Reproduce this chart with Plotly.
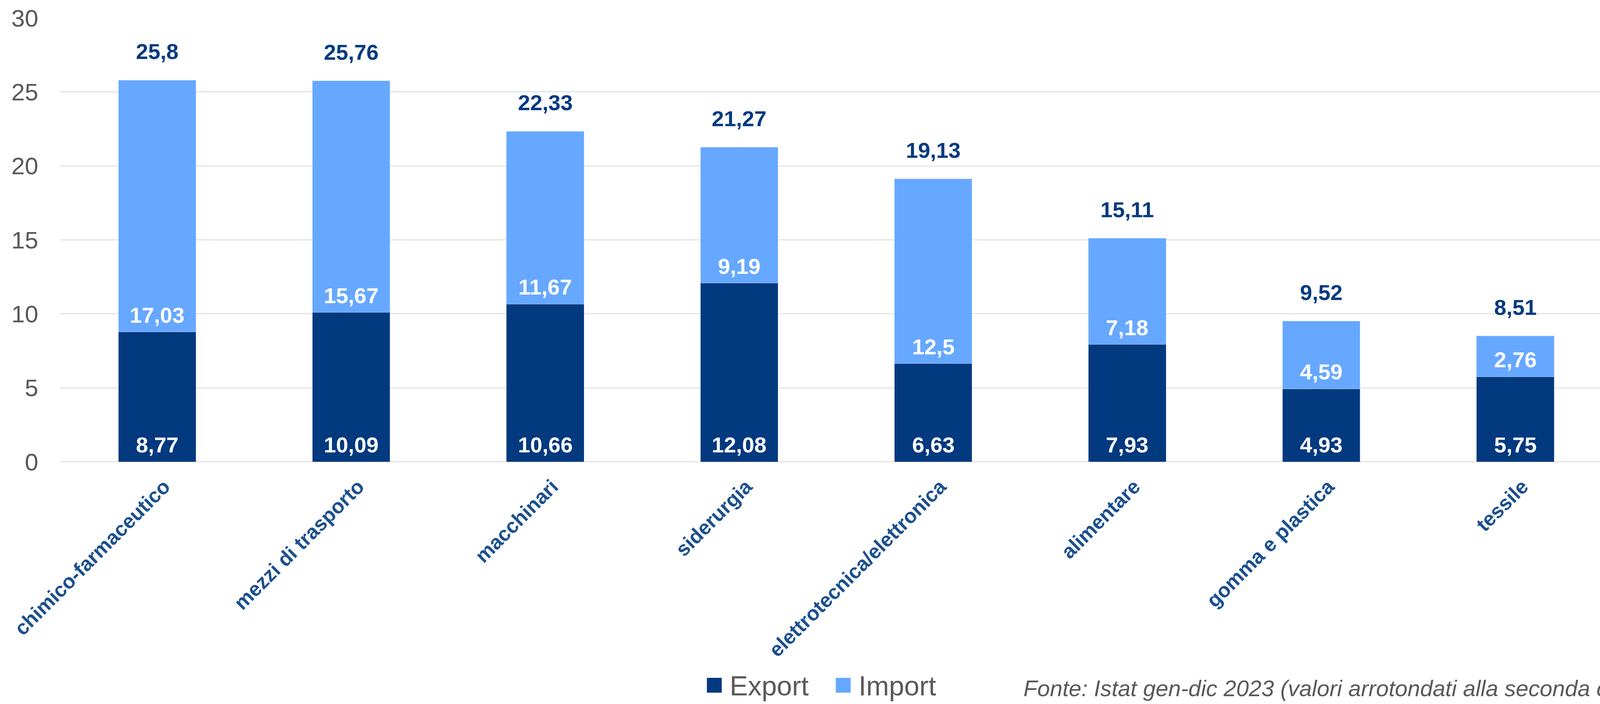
import plotly.graph_objects as go

categories = ["chimico-farmaceutico", "mezzi di trasporto", "macchinari", "siderurgia",
              "elettrotecnica/elettronica", "alimentare", "gomma e plastica", "tessile"]
export_vals = [8.77, 10.09, 10.66, 12.08, 6.63, 7.93, 4.93, 5.75]
import_vals = [17.03, 15.67, 11.67, 9.19, 12.5, 7.18, 4.59, 2.76]
y_ticks = [0, 5, 10, 15, 20, 25, 30]
footnote = "Fonte: Istat gen-dic 2023 (valori arrotondati alla seconda cifra decimale)"

EXPORT_COLOR = "#02397F"
IMPORT_COLOR = "#66A8FF"
LABEL_BLUE = "#023A80"
CAT_BLUE = "#1B4F8E"
GREY = "#595959"
FONT = "Liberation Sans"

W, H = 4554, 1802
L, R, T, B = 154, 0, 46, 620
PW, PH = W - L - R, H - T - B


def fmt(v):
    return f"{round(v, 2):g}".replace(".", ",")


def px_x(p):
    return (p - L) / PW


def px_y(p):
    return (H - B - p) / PH


totals = [round(e + i, 2) for e, i in zip(export_vals, import_vals)]

fig = go.Figure()
fig.add_trace(go.Bar(x=categories, y=export_vals, name="Export", marker_color=EXPORT_COLOR,
                     width=0.4, showlegend=False))
fig.add_trace(go.Bar(x=categories, y=import_vals, name="Import", marker_color=IMPORT_COLOR,
                     width=0.4, showlegend=False))

annotations = []
for c, e, i, t in zip(categories, export_vals, import_vals, totals):
    annotations.append(dict(x=c, y=0, text=fmt(e), showarrow=False, yanchor="bottom",
                            yshift=10, font=dict(family=FONT, size=56, color="white", weight="bold")))
    annotations.append(dict(x=c, y=e, text=fmt(i), showarrow=False, yanchor="bottom",
                            yshift=10, font=dict(family=FONT, size=56, color="white", weight="bold")))
    annotations.append(dict(x=c, y=t, text=fmt(t), showarrow=False, yanchor="bottom",
                            yshift=40, font=dict(family=FONT, size=56, color=LABEL_BLUE, weight="bold")))

# manual legend (anchored at one paper point, items offset in pixels)
shapes = []
leg_x = px_x(2002)
leg_y = px_y(1756)
legend_items = [("Export", EXPORT_COLOR, 0), ("Import", IMPORT_COLOR, 330)]
for name, col, off in legend_items:
    shapes.append(dict(type="rect", xref="paper", yref="paper",
                       xsizemode="pixel", ysizemode="pixel",
                       xanchor=leg_x, yanchor=leg_y,
                       x0=off, x1=off + 38, y0=-17, y1=21,
                       fillcolor=col, line=dict(width=0)))
    annotations.append(dict(xref="paper", yref="paper", x=leg_x, y=leg_y, xshift=off + 56,
                            xanchor="left", yanchor="middle", text=name, showarrow=False,
                            font=dict(family=FONT, size=70, color=GREY)))

annotations.append(dict(xref="paper", yref="paper", x=px_x(2904), y=px_y(1762),
                        xanchor="left", yanchor="middle", text=footnote, showarrow=False,
                        font=dict(family=FONT, size=58, color=GREY, style="italic")))

fig.update_layout(
    height=H,
    autosize=True,
    margin=dict(l=L, r=R, t=T, b=B, autoexpand=False),
    barmode="stack",
    plot_bgcolor="white", paper_bgcolor="white",
    showlegend=False,
    annotations=annotations,
    shapes=shapes,
    xaxis=dict(type="category", range=[-0.5, PW / 554.4 - 0.5],
               tickangle=-45, showgrid=False, showline=False, zeroline=False,
               ticks="", ticklabelstandoff=22, ticklabelshift=18,
               tickfont=dict(family=FONT, size=52, color=CAT_BLUE, weight="bold")),
    yaxis=dict(range=[0, 30], tickvals=y_ticks, showgrid=True, gridcolor="#D9D9D9", gridwidth=2,
               zeroline=True, zerolinecolor="#D9D9D9", zerolinewidth=2, showline=False,
               ticks="", ticklabelstandoff=55,
               tickfont=dict(family=FONT, size=62, color=GREY)),
)

post = ("document.body.style.margin='0';document.body.style.overflow='hidden';"
        "var gd=document.getElementById('{plot_id}');Plotly.Plots.resize(gd);")
fig.write_html("out.html", post_script=post, config={"displayModeBar": False})
